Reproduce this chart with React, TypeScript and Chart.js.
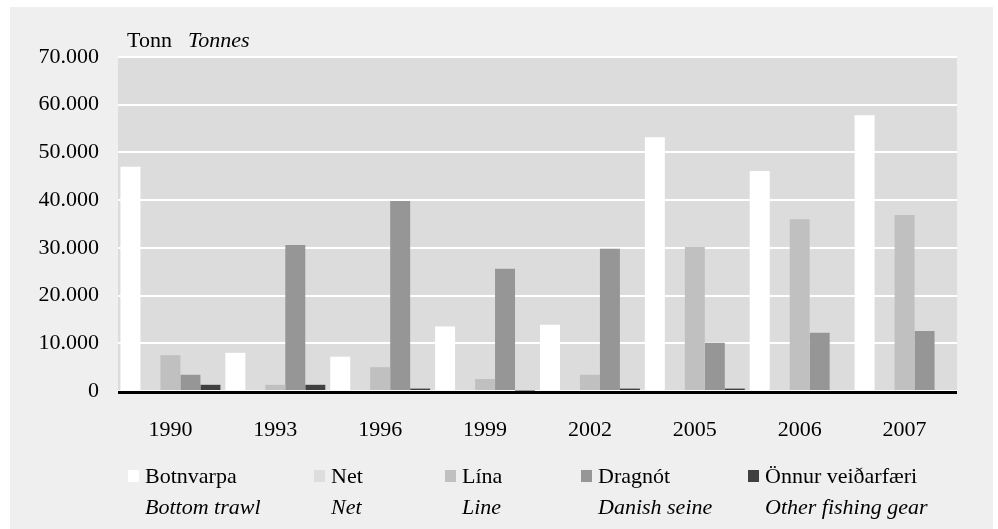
import React, { useEffect, useRef } from "react";
import { Chart, registerables } from "chart.js";

Chart.register(...registerables);

const categories = ["1990", "1993", "1996", "1999", "2002", "2005", "2006", "2007"];
const botnvarpa = [47000, 8000, 7200, 13500, 13900, 53200, 46100, 57800];
const net = [0, 0, 0, 0, 0, 0, 0, 0];
const lina = [7500, 1300, 5000, 2500, 3400, 30200, 36000, 36900];
const dragnot = [3400, 30600, 39800, 25600, 29800, 10100, 12200, 12600];
const onnur = [1300, 1300, 500, 100, 500, 500, 0, 0];

const seriesNames = ["Botnvarpa", "Net", "Lína", "Dragnót", "Önnur veiðarfæri"];
const seriesNamesEn = ["Bottom trawl", "Net", "Line", "Danish seine", "Other fishing gear"];
const seriesColors = ["#ffffff", "#dddddd", "#c0c0c0", "#969696", "#404040"];
const yMax = 70000;
const yStep = 10000;
const unitLabel = "Tonn";
const unitLabelEn = "Tonnes";

const legendX = [128, 314, 445, 581, 748];
const FONT = '"Liberation Serif", "Times New Roman", serif';

function fmt(v: number): string {
  return String(v).replace(/\B(?=(\d{3})+(?!\d))/g, ".");
}

const decorPlugin = {
  id: "decor",
  beforeDraw(chart: any) {
    const { ctx, chartArea } = chart;
    ctx.save();
    ctx.fillStyle = "#ffffff";
    ctx.fillRect(0, 0, chart.width, chart.height);
    ctx.fillStyle = "#efefef";
    ctx.fillRect(10, 7, 983, 522);
    ctx.fillStyle = "#dcdcdc";
    ctx.fillRect(chartArea.left, chartArea.top, chartArea.right - chartArea.left, chartArea.bottom - chartArea.top);
    ctx.restore();
  },
  afterDatasetsDraw(chart: any) {
    const { ctx, chartArea } = chart;
    ctx.save();
    ctx.strokeStyle = "#000000";
    ctx.lineWidth = 3;
    ctx.beginPath();
    ctx.moveTo(chartArea.left, chartArea.bottom + 1.5);
    ctx.lineTo(chartArea.right, chartArea.bottom + 1.5);
    ctx.stroke();
    ctx.restore();
  },
  afterDraw(chart: any) {
    const { ctx } = chart;
    ctx.save();
    ctx.fillStyle = "#000000";
    ctx.textBaseline = "alphabetic";
    ctx.textAlign = "left";
    ctx.font = `22px ${FONT}`;
    ctx.fillText(unitLabel, 127, 47);
    ctx.font = `italic 22px ${FONT}`;
    ctx.fillText(unitLabelEn, 188, 47);
    seriesNames.forEach((name, i) => {
      const x = legendX[i];
      ctx.fillStyle = seriesColors[i];
      ctx.fillRect(x, 470, 11, 12);
      ctx.fillStyle = "#000000";
      ctx.font = `22px ${FONT}`;
      ctx.fillText(name, x + 17, 483);
      ctx.font = `italic 22px ${FONT}`;
      ctx.fillText(seriesNamesEn[i], x + 17, 514);
    });
    ctx.restore();
  },
};

export default function App() {
  const ref = useRef<HTMLCanvasElement | null>(null);
  useEffect(() => {
    document.body.style.margin = "0";
    const data = [botnvarpa, net, lina, dragnot, onnur];
    const chart = new Chart(ref.current as HTMLCanvasElement, {
      type: "bar",
      data: {
        labels: categories,
        datasets: seriesNames.map((name, i) => ({
          label: name,
          data: data[i],
          backgroundColor: seriesColors[i],
          borderWidth: 0,
          barPercentage: 1,
          categoryPercentage: 0.953,
        })),
      },
      options: {
        animation: false,
        responsive: true,
        maintainAspectRatio: false,
        layout: { padding: { top: 57, right: 41, bottom: 68, left: 0 } },
        plugins: { legend: { display: false }, tooltip: { enabled: false }, title: { display: false } },
        scales: {
          x: {
            grid: { display: false, drawTicks: false },
            border: { display: false },
            ticks: { color: "#000", font: { family: FONT, size: 22 }, padding: 26, maxRotation: 0 },
            afterFit(scale: any) {
              scale.height = 70;
            },
          },
          y: {
            min: 0,
            max: yMax,
            grid: { color: "#ffffff", lineWidth: 2, drawTicks: false },
            border: { display: false },
            ticks: {
              stepSize: yStep,
              color: "#000",
              font: { family: FONT, size: 22 },
              padding: 19,
              callback: (v: any) => fmt(Number(v)),
            },
            afterFit(scale: any) {
              scale.width = 118;
            },
          },
        },
      },
      plugins: [decorPlugin],
    });
    return () => chart.destroy();
  }, []);
  return (
    <div style={{ position: "absolute", left: 0, top: 0, width: 998, height: 529 }}>
      <canvas ref={ref} />
    </div>
  );
}
